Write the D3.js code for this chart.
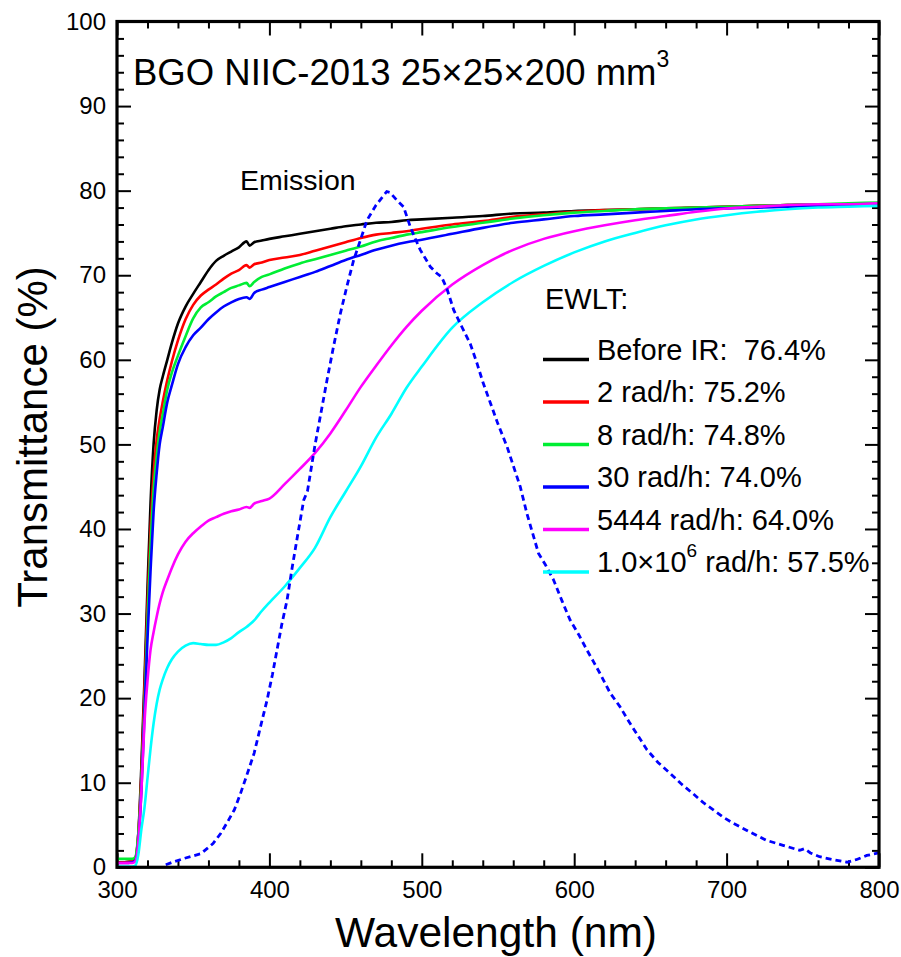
<!DOCTYPE html>
<html>
<head>
<meta charset="utf-8">
<script src="https://cdn.jsdelivr.net/npm/d3@7"></script>
<style>
  html, body { margin: 0; padding: 0; background: #fff; }
  svg { display: block; font-family: "Liberation Sans", Arial, sans-serif; }
  text { white-space: pre; }
</style>
</head>
<body>
<svg id="chart" width="901" height="957"></svg>
<script>
// ---------------- DATA ----------------
const wavelengths = [300,305,310,312,314,316,318,320,322,324,326,328,330,333,336,340,345,350,355,360,
  365,370,375,380,385,387,390,395,400,410,420,430,440,450,460,470,480,490,500,520,
  540,560,580,600,620,640,660,680,700,720,740,760,780,800];

const beforeIR = [0.6,0.6,0.7,1.0,4,12,22,33,43,50,54,56.5,58,60,62,64.3,66.3,67.8,69.2,70.6,
  71.7,72.3,72.8,73.3,74.0,73.5,73.9,74.1,74.3,74.6,74.9,75.2,75.5,75.8,76.0,76.2,76.3,76.5,76.6,76.8,
  77.0,77.3,77.4,77.6,77.7,77.8,77.9,78.0,78.1,78.2,78.3,78.4,78.4,78.5];

const rad2 = [0.6,0.6,0.7,1.0,4,11,21,31,40,46.5,50.5,53,55,57.6,59.8,62.3,64.8,66.5,67.6,68.3,
  68.9,69.6,70.2,70.6,71.2,70.9,71.3,71.5,71.8,72.1,72.4,72.9,73.4,73.9,74.4,74.8,75.0,75.2,75.5,76.0,
  76.4,76.9,77.2,77.5,77.7,77.8,77.9,78.0,78.1,78.2,78.3,78.4,78.4,78.5];

const rad8 = [1.0,1.0,1.0,1.2,4,10,19,29,38,44.5,48.5,51.5,53.5,56.5,58.5,60.5,62.8,64.9,66.2,66.8,
  67.5,68.0,68.5,68.8,69.1,68.7,69.2,69.8,70.1,70.8,71.4,71.9,72.4,72.9,73.4,74.0,74.4,74.8,75.1,75.7,
  76.2,76.7,77.1,77.4,77.6,77.8,77.9,78.0,78.1,78.2,78.3,78.4,78.5,78.6];

const rad30 = [0.5,0.5,0.6,0.8,3,9,18,27,35,42,46.5,50,52,55,57,59.5,61.5,62.9,63.8,64.8,
  65.6,66.3,66.8,67.2,67.4,67.2,67.9,68.3,68.6,69.2,69.8,70.4,71.1,71.8,72.4,73.0,73.5,73.9,74.2,74.9,
  75.6,76.2,76.6,77.0,77.2,77.4,77.6,77.8,77.9,78.0,78.1,78.2,78.3,78.4];

const rad5444 = [0.5,0.5,0.5,0.7,3,9,17,22,25.7,27.8,29.6,31.2,32.5,34,35.4,37.0,38.5,39.5,40.3,41.0,
  41.4,41.8,42.1,42.3,42.6,42.5,43.0,43.3,43.6,45.3,47.1,49.0,51.3,54.0,56.8,59.3,61.7,63.9,65.8,68.9,
  71.2,73.0,74.3,75.2,75.9,76.5,77.0,77.5,77.9,78.1,78.3,78.4,78.4,78.5];

const rad1e6 = [0.1,0.1,0.1,0.2,1.5,4.5,7,10.5,14,17,19.3,21,22.2,23.6,24.6,25.5,26.2,26.5,26.4,26.3,
  26.3,26.6,27.1,27.8,28.4,28.7,29.2,30.3,31.3,33.2,35.4,37.8,41.4,44.4,47.4,50.8,53.6,56.7,59.2,63.8,
  66.8,69.2,71.1,72.7,74.0,75.0,75.9,76.6,77.1,77.5,77.8,78.0,78.1,78.2];

const emissionWl = [332,338,345,355,363,368,372,377,381,385,390,394,398.5,402,405,408,411.6,415,418,422.5,
  425,430,437.8,442,446.6,451,455.3,460,464,470,477,479,484,488,492.5,496,499,505.6,510,513,
  516.5,520.9,526,531.8,536.2,540,545,550,556,560,564.6,569,576.6,581,586.4,592,597.4,603,608.3,613,
  617,623.6,630,636,641,647.7,655,663,670,678,685,691.3,698,704.5,715,726,737,748,751,755,
  761,770,779,785,792,800];
const emission = [0.3,0.7,1.1,1.6,2.8,4.0,5.2,6.8,8.7,10.8,13.5,16.5,19.8,22.8,25.7,28.6,31.6,35.5,38.7,43.4,
  44.5,50.0,57.6,61.5,65.5,68.8,71.8,74.3,76.5,78.3,79.9,79.8,78.8,78.1,75.7,74.2,73.0,71.0,70.2,69.8,
  68.4,65.9,64.0,61.9,59.6,57.4,54.9,52.4,49.7,47.5,45.0,41.8,37.1,35.8,34.0,31.5,29.2,27.5,25.7,24.2,
  22.9,20.6,19.0,17.2,15.8,13.9,12.4,11.1,9.9,8.7,7.6,6.8,5.9,5.2,4.2,3.2,2.6,2.0,2.2,1.7,
  1.25,0.9,0.6,0.9,1.4,1.7];

const seriesNames = ["Before IR:  76.4%", "2 rad/h: 75.2%", "8 rad/h: 74.8%", "30 rad/h: 74.0%", "5444 rad/h: 64.0%", "1.0\u00d710|6| rad/h: 57.5%"];
const seriesValues = [beforeIR, rad2, rad8, rad30, rad5444, rad1e6];
const seriesColors = ["#000000", "#ff0000", "#00ee33", "#0000ff", "#ff00ff", "#00ffff"];

const xMajorTicks = [300, 400, 500, 600, 700, 800];
const yMajorTicks = [0, 10, 20, 30, 40, 50, 60, 70, 80, 90, 100];

// ---------------- LAYOUT ----------------
const svg = d3.select("#chart");
const L = 117, R = 879, T = 21.5, B = 867.3;
const x = d3.scaleLinear().domain([300, 800]).range([L, R]);
const y = d3.scaleLinear().domain([0, 100]).range([B, T]);

const xMinor = d3.range(300, 801, 20).filter(v => v % 100 !== 0);
const yMinor = d3.range(0, 101, 2).filter(v => v % 10 !== 0);

function styleAxis(g) {
  g.select(".domain").remove();
  g.selectAll(".tick line").attr("stroke", "#000").attr("stroke-width", 2);
  g.selectAll(".tick text").attr("fill", "#000").attr("font-size", 24)
    .attr("font-family", "'Liberation Sans', Arial, sans-serif");
}

// bottom
svg.append("g").attr("transform", `translate(0,${B})`)
  .call(d3.axisBottom(x).tickValues(xMajorTicks).tickSizeInner(-14).tickSizeOuter(0).tickPadding(14).tickFormat(d3.format("d")))
  .call(styleAxis);
svg.append("g").attr("transform", `translate(0,${B})`)
  .call(d3.axisBottom(x).tickValues(xMinor).tickSizeInner(-7).tickSizeOuter(0).tickFormat(""))
  .call(styleAxis);
// top
svg.append("g").attr("transform", `translate(0,${T})`)
  .call(d3.axisTop(x).tickValues(xMajorTicks).tickSizeInner(-14).tickSizeOuter(0).tickFormat(""))
  .call(styleAxis);
svg.append("g").attr("transform", `translate(0,${T})`)
  .call(d3.axisTop(x).tickValues(xMinor).tickSizeInner(-7).tickSizeOuter(0).tickFormat(""))
  .call(styleAxis);
// left
svg.append("g").attr("transform", `translate(${L},0)`)
  .call(d3.axisLeft(y).tickValues(yMajorTicks).tickSizeInner(-14).tickSizeOuter(0).tickPadding(11).tickFormat(d3.format("d")))
  .call(styleAxis);
svg.append("g").attr("transform", `translate(${L},0)`)
  .call(d3.axisLeft(y).tickValues(yMinor).tickSizeInner(-7).tickSizeOuter(0).tickFormat(""))
  .call(styleAxis);
// right
svg.append("g").attr("transform", `translate(${R},0)`)
  .call(d3.axisRight(y).tickValues(yMajorTicks).tickSizeInner(-14).tickSizeOuter(0).tickFormat(""))
  .call(styleAxis);
svg.append("g").attr("transform", `translate(${R},0)`)
  .call(d3.axisRight(y).tickValues(yMinor).tickSizeInner(-7).tickSizeOuter(0).tickFormat(""))
  .call(styleAxis);

// ---------------- CURVES ----------------
svg.append("defs").append("clipPath").attr("id", "plotclip")
  .append("rect").attr("x", L).attr("y", T - 2).attr("width", R - L).attr("height", B - T + 2);
const plot = svg.append("g").attr("clip-path", "url(#plotclip)");

const lineT = d3.line().x((d, i) => x(wavelengths[i])).y(d => y(d)).curve(d3.curveMonotoneX);
seriesValues.forEach((vals, k) => {
  plot.append("path").datum(vals)
    .attr("d", lineT)
    .attr("fill", "none")
    .attr("stroke", seriesColors[k])
    .attr("stroke-width", 2.6)
    .attr("stroke-linejoin", "round");
});

const lineE = d3.line().x((d, i) => x(emissionWl[i])).y(d => y(d));
plot.append("path").datum(emission)
  .attr("d", lineE)
  .attr("fill", "none")
  .attr("stroke", "#0000ff")
  .attr("stroke-width", 2.8)
  .attr("stroke-dasharray", "6,4");

// frame
svg.append("rect").attr("x", L).attr("y", T).attr("width", R - L).attr("height", B - T)
  .attr("fill", "none").attr("stroke", "#000").attr("stroke-width", 3.2);

// ---------------- TEXT ----------------
const title = svg.append("text").attr("x", 133).attr("y", 85).attr("font-size", 36.5).attr("fill", "#000");
title.append("tspan").text("BGO NIIC-2013 25\u00d725\u00d7200 mm");
title.append("tspan").attr("font-size", 23).attr("dy", -18).text("3");

svg.append("text").attr("x", 240).attr("y", 190).attr("font-size", 28.5).attr("fill", "#000").text("Emission");

svg.append("text").attr("x", 545).attr("y", 309).attr("font-size", 29).attr("fill", "#000").text("EWLT:");

const legY0 = 359.5, legDy = 42.5;
seriesNames.forEach((name, k) => {
  const yy = legY0 + k * legDy;
  svg.append("line").attr("x1", 543).attr("x2", 589).attr("y1", yy).attr("y2", yy)
    .attr("stroke", seriesColors[k]).attr("stroke-width", 3.5);
  const t = svg.append("text").attr("x", 597).attr("y", yy).attr("font-size", 29).attr("fill", "#000");
  const parts = name.split("|");
  if (parts.length === 3) {
    t.append("tspan").text(parts[0]);
    t.append("tspan").attr("font-size", 19).attr("dy", -15).text(parts[1]);
    t.append("tspan").attr("dy", 15).text(parts[2]);
  } else {
    t.text(name);
  }
});

svg.append("text")
  .attr("transform", `translate(47,437) rotate(-90)`)
  .attr("text-anchor", "middle").attr("font-size", 42).attr("fill", "#000")
  .text("Transmittance (%)");

svg.append("text")
  .attr("x", 496).attr("y", 947)
  .attr("text-anchor", "middle").attr("font-size", 42.5).attr("fill", "#000")
  .text("Wavelength (nm)");
</script>
</body>
</html>
